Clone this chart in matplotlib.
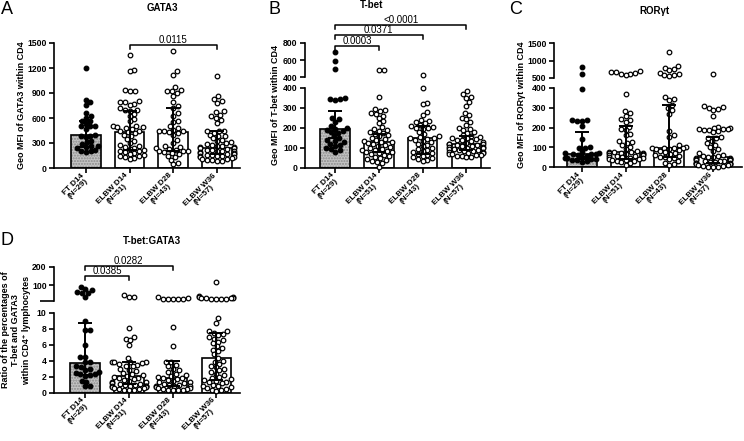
import numpy as np
import matplotlib
matplotlib.use('Agg')
import matplotlib.pyplot as plt
from matplotlib.transforms import Affine2D, blended_transform_factory

plt.rcParams['font.family'] = ['Liberation Sans', 'DejaVu Sans']
plt.rcParams['font.weight'] = 'bold'

groups = ['FT D14\n(N=29)', 'ELBW D14\n(N=51)', 'ELBW D28\n(N=43)', 'ELBW W36\n(N=57)']

# ---- A: GATA3 geo MFI ----
gata3_ft = [1200, 820, 790, 760, 660, 620, 600, 570, 560, 530, 510, 500, 500, 470, 400,
            390, 380, 370, 330, 310, 290, 270, 260, 250, 240, 220, 200, 200, 190]
gata3_d14 = [1360, 1180, 1170, 940, 920, 920, 800, 790, 790, 770, 760, 720, 700, 700, 680,
             650, 620, 590, 560, 500, 500, 490, 490, 480, 470, 450, 440, 430, 420, 400,
             380, 350, 320, 300, 280, 270, 250, 240, 230, 220, 210, 200, 190, 180, 170,
             160, 150, 140, 130, 120, 110]
gata3_d28 = [1400, 1160, 1120, 970, 940, 930, 920, 900, 860, 790, 740, 720, 660, 630, 560,
             550, 500, 480, 460, 450, 440, 440, 430, 420, 400, 340, 300, 260, 250, 240,
             230, 220, 210, 200, 200, 190, 180, 170, 150, 130, 100, 60, 50]
gata3_w36 = [1100, 870, 830, 800, 780, 680, 670, 640, 620, 600, 580, 540, 450, 450, 440,
             420, 400, 390, 380, 360, 340, 320, 310, 300, 290, 280, 270, 260, 250, 250,
             240, 240, 230, 220, 220, 210, 200, 200, 190, 180, 180, 170, 170, 160, 160,
             150, 150, 140, 130, 130, 120, 110, 110, 100, 100, 90, 80]
gata3_med = [392, 436, 436, 245]
gata3_q1 = [255, 216, 208, 165]
gata3_q3 = [560, 688, 720, 448]

# ---- B: T-bet geo MFI ----
tbet_ft = [690, 590, 500, 350, 345, 345, 340, 250, 245, 230, 210, 200, 195, 190, 185,
           180, 175, 160, 150, 140, 135, 130, 120, 115, 110, 100, 95, 90, 80]
tbet_d14 = [490, 480, 355, 295, 290, 285, 275, 270, 260, 250, 235, 225, 205, 195, 190,
            185, 180, 175, 170, 165, 160, 150, 145, 140, 135, 130, 128, 125, 120, 115,
            110, 105, 100, 95, 90, 88, 85, 80, 78, 75, 70, 65, 60, 55, 50, 45, 40, 35,
            30, 25, 5]
tbet_d28 = [430, 400, 325, 320, 280, 265, 240, 235, 230, 225, 215, 210, 205, 200, 200,
            195, 180, 170, 160, 155, 150, 148, 145, 140, 135, 130, 120, 115, 110, 100,
            95, 90, 85, 80, 75, 70, 65, 60, 55, 50, 45, 40, 35]
tbet_w36 = [385, 370, 355, 350, 330, 310, 275, 265, 250, 245, 230, 215, 200, 195, 190,
            180, 175, 165, 160, 155, 150, 148, 145, 140, 138, 135, 130, 125, 120, 118,
            117, 115, 112, 110, 108, 105, 102, 100, 98, 95, 92, 90, 88, 85, 82, 80, 78,
            75, 72, 70, 68, 65, 62, 60, 58, 55, 52]
tbet_med = [193, 127, 147, 117]
tbet_q1 = [147, 80, 70, 88]
tbet_q3 = [285, 168, 208, 160]

# ---- C: RORgt geo MFI ----
rorgt_ft = [800, 600, 395, 240, 240, 235, 235, 210, 140, 100, 95, 95, 75, 72, 70,
            68, 67, 65, 60, 55, 50, 48, 45, 42, 40, 38, 35, 30, 25]
rorgt_d14 = [700, 670, 640, 600, 580, 620, 660, 370, 285, 275, 260, 245, 240, 230, 205,
             190, 185, 165, 160, 130, 125, 120, 110, 100, 90, 80, 78, 76, 75, 74, 72,
             70, 68, 65, 62, 60, 58, 55, 52, 50, 48, 45, 42, 40, 38, 35, 32, 30, 25,
             20, 10]
rorgt_d28 = [1250, 840, 780, 760, 720, 650, 600, 580, 570, 560, 355, 345, 340, 315, 300,
             290, 270, 180, 160, 150, 110, 100, 99, 98, 97, 95, 92, 90, 85, 80, 75, 70,
             65, 60, 55, 50, 50, 45, 40, 30, 20, 15, 10]
rorgt_w36 = [620, 310, 305, 300, 295, 290, 260, 205, 200, 195, 193, 190, 190, 188, 185,
             180, 175, 150, 148, 145, 130, 120, 110, 100, 90, 80, 70, 60, 58, 55, 52,
             50, 48, 46, 44, 42, 40, 38, 36, 34, 32, 30, 28, 26, 24, 22, 20, 18, 16,
             15, 12, 10, 8, 5, 4, 3, 2]
rorgt_med = [67, 75, 97, 50]
rorgt_q1 = [40, 40, 50, 20]
rorgt_q3 = [178, 206, 313, 150]

# ---- D: T-bet:GATA3 ratio ----
ratio_ft = [90, 80, 75, 60, 58, 55, 35, 9.0, 7.9, 7.9, 6.0, 4.5, 4.5, 3.9, 3.8,
            3.3, 3.2, 3.0, 2.8, 2.6, 2.5, 2.4, 2.3, 2.2, 2.1, 1.5, 1.4, 0.8, 0.8]
ratio_d14 = [45, 33, 32, 8.1, 7.0, 6.8, 6.6, 6.0, 4.4, 3.9, 3.9, 3.8, 3.8, 3.7, 3.6,
             3.5, 3.4, 3.3, 3.0, 2.9, 2.7, 2.5, 2.3, 2.2, 2.1, 2.0, 1.9, 1.8, 1.7, 1.6,
             1.5, 1.4, 1.3, 1.2, 1.1, 1.1, 1.0, 1.0, 0.9, 0.9, 0.8, 0.8, 0.7, 0.7, 0.6,
             0.6, 0.5, 0.5, 0.4, 0.4, 0.3]
ratio_d28 = [33, 26, 25, 24, 24, 24, 25, 8.3, 5.9, 3.9, 3.8, 3.5, 3.3, 3.0, 2.8,
             2.6, 2.4, 2.2, 2.1, 2.0, 1.9, 1.8, 1.7, 1.6, 1.5, 1.4, 1.3, 1.2, 1.1, 1.0,
             1.0, 0.9, 0.8, 0.8, 0.7, 0.6, 0.6, 0.5, 0.5, 0.4, 0.4, 0.3, 0.3]
ratio_w36 = [115, 38, 36, 33, 30, 28, 26, 25, 24, 24, 25, 27, 9.4, 8.8, 7.8,
             7.7, 7.5, 7.4, 7.2, 7.0, 6.8, 6.6, 6.4, 6.2, 5.8, 5.6, 5.4, 5.2, 4.8, 4.4,
             4.0, 3.9, 3.6, 3.4, 3.2, 3.0, 2.8, 2.6, 2.4, 2.2, 2.0, 1.8, 1.7, 1.6, 1.5,
             1.4, 1.3, 1.2, 1.0, 0.9, 0.8, 0.7, 0.6, 0.5, 0.4, 0.3, 0.2]
ratio_med = [3.75, 2.05, 1.85, 4.4]
ratio_q1 = [2.2, 1.05, 0.9, 1.65]
ratio_q3 = [8.7, 3.85, 3.95, 7.45]

W, H = 744, 441
fig = plt.figure(figsize=(W / 100, H / 100), dpi=100)
px = Affine2D().scale(1 / W, -1 / H).translate(0, 1) + fig.transFigure
SP = 43.8  # pixels between categories
DY = -3    # small lift of the lower panel so its labels fit


def add_axes(x0, x1, top, bot):
    a = fig.add_axes([x0 / W, 1 - bot / H, (x1 - x0) / W, (bot - top) / H])
    a.patch.set_visible(False)
    return a


def swarm(vals, ppu, d=5.0, limit=17.0):
    # simple beeswarm in pixel space, returns x offsets in pixels
    ys = np.asarray(vals, float) * ppu
    xs = np.zeros(len(ys))
    placed = []
    for i in np.argsort(ys):
        y = ys[i]
        near = [(nx, ny) for nx, ny in placed if abs(ny - y) < d]
        cands = [0.0]
        for nx, ny in near:
            dx = np.sqrt(d * d - (ny - y) ** 2)
            cands += [nx + dx, nx - dx]
        cands.sort(key=abs)
        best = cands[-1]
        for c in cands:
            if all((c - nx) ** 2 + (y - ny) ** 2 >= d * d - 1e-6 for nx, ny in near):
                best = c
                break
        best = float(np.clip(best, -limit, limit))
        xs[i] = best
        placed.append((best, y))
    return xs


def style(ax, bottom=True):
    for s in ['top', 'right']:
        ax.spines[s].set_visible(False)
    ax.spines['left'].set_linewidth(1.2)
    ax.spines['bottom'].set_linewidth(1.2)
    ax.tick_params(direction='out', length=3.8, width=1.2, labelsize=6.2, pad=1.5)
    ax.tick_params(axis='x', pad=2.5)
    if not bottom:
        ax.spines['bottom'].set_visible(False)
        ax.set_xticks([])


def draw_panel(x0, x1, c0, low, high, data, med, q1, q3):
    xl = ((x0 - c0) / SP, (x1 - c0) / SP)
    ax = add_axes(x0, x1, low[0], low[1])
    ax.set_xlim(*xl)
    ax.set_ylim(low[2], low[3])
    ax.set_yticks(low[4])
    style(ax)
    ax.set_xticks(range(4))
    ax.set_xticklabels(groups, rotation=45, ha='right', va='center', linespacing=0.95,
                       rotation_mode='anchor', multialignment='center', fontsize=5.9)
    axes = [(ax, low)]
    axh = None
    if high is not None:
        axh = add_axes(x0, x1, high[0], high[1])
        axh.set_xlim(*xl)
        axh.set_ylim(high[2], high[3])
        axh.set_yticks(high[4])
        style(axh, bottom=False)
        axes.append((axh, high))

    x = np.arange(4)
    ax.bar(x[:1], med[:1], width=0.68, color='#c4c4c4', hatch='......',
           edgecolor='#8a8a8a', linewidth=0, zorder=1)
    ax.bar(x, med, width=0.68, color=['none', 'white', 'white', 'white'],
           edgecolor='black', linewidth=1.2, zorder=1.5)

    for i, vals in enumerate(data):
        vals = np.asarray(vals, float)
        for a, spec in axes:
            split = low[3]
            sel = vals <= split if a is ax else vals > split
            if not sel.any():
                continue
            v = vals[sel]
            ppu = (spec[1] - spec[0]) / (spec[3] - spec[2])
            off = swarm(v - spec[2], ppu)
            a.scatter(i + off / SP, v, s=11, linewidths=0.9,
                      facecolor='black' if i == 0 else 'white',
                      edgecolor='black', zorder=3, clip_on=False)

    med = np.asarray(med)
    ax.errorbar(x, med, yerr=[med - np.asarray(q1), np.asarray(q3) - med], fmt='none',
                ecolor='black', elinewidth=1.4, capsize=5.2, capthick=1.4, zorder=4)
    return ax, axh


def bracket(ax, xa, xb, ypx, label):
    tr = blended_transform_factory(ax.transData, px)
    ax.plot([xa, xa, xb, xb], [ypx + 3.5, ypx, ypx, ypx + 3.5], transform=tr,
            color='black', lw=1.1, clip_on=False, zorder=6)
    ax.text((xa + xb) / 2, ypx - 0.3, label, transform=tr, ha='center', va='bottom',
            fontsize=7, fontweight='normal', zorder=6)


# panel A
axA, _ = draw_panel(54, 240, 85.7, (43, 168, 0, 1500, [0, 300, 600, 900, 1200, 1500]), None,
                    [gata3_ft, gata3_d14, gata3_d28, gata3_w36], gata3_med, gata3_q1, gata3_q3)
bracket(axA, 1, 3, 45, '0.0115')

# panel B
axB, axB2 = draw_panel(305, 490, 335, (87.7, 167.7, 0, 400, [0, 100, 200, 300, 400]),
                       (42.7, 77.3, 400, 800, [400, 600, 800]),
                       [tbet_ft, tbet_d14, tbet_d28, tbet_w36], tbet_med, tbet_q1, tbet_q3)
bracket(axB2, 0, 1, 46, '0.0003')
bracket(axB2, 0, 2, 35, '0.0371')
bracket(axB2, 0, 3, 25, '<0.0001')

# panel C
axC, axC2 = draw_panel(554, 742, 581.7, (87.7, 167.3, 0, 400, [0, 100, 200, 300, 400]),
                       (43.3, 77.7, 500, 1500, [500, 1000, 1500]),
                       [rorgt_ft, rorgt_d14, rorgt_d28, rorgt_w36], rorgt_med, rorgt_q1, rorgt_q3)

# panel D
axD, axD2 = draw_panel(54, 240, 85, (316 + DY, 395.7 + DY, 0, 10, [0, 2, 4, 6, 8, 10]),
                       (270 + DY, 304.3 + DY, 10, 200, [100, 200]),
                       [ratio_ft, ratio_d14, ratio_d28, ratio_w36], ratio_med, ratio_q1, ratio_q3)
axD2.set_yticks([10], minor=True)
axD2.tick_params(axis='y', which='minor', length=10, width=1.2)
bracket(axD2, 0, 1, 279 + DY, '0.0385')
bracket(axD2, 0, 2, 269 + DY, '0.0282')


# titles, letters, axis labels (pixel positions)
def ftext(xp, yp, s, **kw):
    fig.text(xp / W, 1 - yp / H, s, **kw)


for letter, xp, yp in [('A', 1, 1), ('B', 269, 1), ('C', 509, 1), ('D', 1, 235 + DY)]:
    ftext(xp, yp, letter, fontsize=13, fontweight='normal', va='top', ha='left')

for t, xp, yp in [('GATA3', 162, 8), ('T-bet', 372, 5.5), ('RORγt', 654, 10.5),
                  ('T-bet:GATA3', 152, 243.5 + DY)]:
    ftext(xp, yp, t, fontsize=7, ha='center', va='center')

for lab, xp, yp in [('Geo MFI of GATA3 within CD4', 22, 105),
                    ('Geo MFI of T-bet within CD4', 276, 105),
                    ('Geo MFI of RORγt within CD4', 521, 105),
                    ('Ratio of the percentages of\nT-bet and GATA3\nwithin CD4⁺ lymphocytes', 16, 333 + DY)]:
    ftext(xp, yp, lab, fontsize=6.5, rotation=90, ha='center', va='center',
          multialignment='center', linespacing=1.15)

fig.savefig('out.png', dpi=100)
